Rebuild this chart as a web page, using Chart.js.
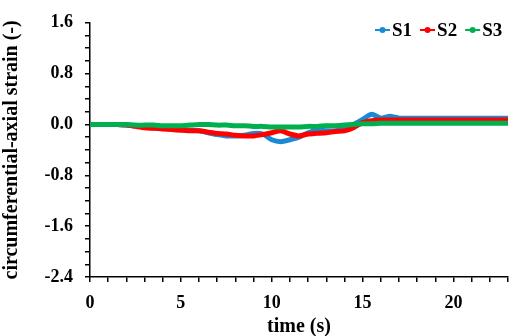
<!DOCTYPE html>
<html>
<head>
<meta charset="utf-8">
<script src="https://cdn.jsdelivr.net/npm/chart.js@4"></script>
<style>
  body { margin: 0; background: #fff; }
</style>
</head>
<body>
<canvas id="chart" width="515" height="336"></canvas>
<script>
// time (s), every 0.5 s
const times = [0, 0.5, 1, 1.5, 2, 2.5, 3, 3.5, 4, 4.5, 5, 5.5, 6, 6.5, 7, 7.5, 8, 8.5, 9, 9.5, 10, 10.5, 11, 11.5, 12, 12.5, 13, 13.5, 14, 14.5, 15, 15.5, 16, 16.5, 17, 17.5, 18, 18.5, 19, 19.5, 20, 20.5, 21, 21.5, 22, 22.5, 23];

const s1 = [0, 0, 0, 0, -0.01, -0.02, -0.04, -0.05, -0.05, -0.07, -0.08, -0.09, -0.1, -0.13, -0.16, -0.18, -0.18, -0.17, -0.14, -0.15, -0.24, -0.27, -0.24, -0.2, -0.13, -0.09, -0.1, -0.1, -0.05, 0.0, 0.08, 0.16, 0.1, 0.13, 0.1, 0.1, 0.1, 0.1, 0.1, 0.1, 0.1, 0.1, 0.1, 0.1, 0.1, 0.1, 0.1];
const s2 = [0, 0, 0, 0, -0.01, -0.03, -0.05, -0.06, -0.07, -0.08, -0.09, -0.1, -0.1, -0.12, -0.14, -0.15, -0.17, -0.18, -0.18, -0.16, -0.13, -0.1, -0.15, -0.18, -0.15, -0.14, -0.13, -0.11, -0.1, -0.05, 0.03, 0.06, 0.07, 0.07, 0.07, 0.07, 0.07, 0.07, 0.07, 0.07, 0.07, 0.07, 0.07, 0.07, 0.07, 0.07, 0.07];
const s3 = [0, 0, 0, 0, 0, -0.01, -0.01, -0.01, -0.02, -0.02, -0.02, -0.01, 0.0, 0.0, -0.01, -0.01, -0.02, -0.02, -0.03, -0.03, -0.04, -0.04, -0.04, -0.04, -0.03, -0.03, -0.02, -0.02, -0.01, 0.0, 0.01, 0.01, 0.02, 0.02, 0.02, 0.02, 0.02, 0.02, 0.02, 0.02, 0.02, 0.02, 0.02, 0.02, 0.02, 0.02, 0.02];

const seriesNames = ['S1', 'S2', 'S3'];
const seriesColors = ['#1a8ad4', '#ff0000', '#00b050'];

const family = '"Liberation Serif", "Times New Roman", serif';
const tickFont = { family: family, weight: 'bold', size: 18 };
const titleFont = { family: family, weight: 'bold', size: 20 };

const pts = vals => vals.map((v, i) => ({ x: times[i], y: v }));

// legend drawn inside the plot, top right: line + dot marker, then label
const insideLegend = {
  id: 'insideLegend',
  afterDraw(chart) {
    const ctx = chart.ctx;
    ctx.save();
    ctx.font = 'bold 19px ' + family;
    ctx.textBaseline = 'middle';
    let x = 375;
    const y = 30;
    chart.data.datasets.forEach(ds => {
      ctx.strokeStyle = ds.borderColor;
      ctx.fillStyle = ds.borderColor;
      ctx.lineWidth = 2;
      ctx.beginPath(); ctx.moveTo(x, y); ctx.lineTo(x + 15, y); ctx.stroke();
      ctx.beginPath(); ctx.arc(x + 7.5, y, 3, 0, Math.PI * 2); ctx.fill();
      x += 17;
      ctx.fillStyle = '#000';
      ctx.fillText(ds.label, x, y + 1);
      x += ctx.measureText(ds.label).width + 8;
    });
    ctx.restore();
  }
};

new Chart(document.getElementById('chart'), {
  type: 'line',
  data: {
    datasets: [s1, s2, s3].map((vals, i) => ({
      label: seriesNames[i],
      data: pts(vals),
      borderColor: seriesColors[i],
      backgroundColor: seriesColors[i],
      borderWidth: 5,
      pointRadius: 0,
      tension: 0.2,
      order: 2 - i
    }))
  },
  options: {
    responsive: false,
    animation: false,
    layout: { padding: { top: 17, right: 7, left: 0, bottom: 0 } },
    plugins: {
      tooltip: { enabled: false },
      legend: { display: false }
    },
    scales: {
      x: {
        type: 'linear',
        min: 0,
        max: 23,
        border: { color: '#000', width: 1.5 },
        grid: { drawOnChartArea: false, color: '#000', tickLength: 5, lineWidth: 1.5 },
        ticks: {
          stepSize: 1,
          autoSkip: false,
          maxRotation: 0,
          color: '#000',
          font: tickFont,
          padding: 11,
          callback: v => (v % 5 === 0 ? String(v) : '')
        },
        title: { display: true, text: 'time (s)', color: '#000', font: titleFont, padding: { top: 2, bottom: -3 } },
        afterFit: s => { s.height = 59; s.paddingLeft = 0; s.paddingRight = 0; }
      },
      y: {
        min: -2.4,
        max: 1.6,
        border: { color: '#000', width: 1.5 },
        grid: { drawOnChartArea: false, color: '#000', tickLength: 5, lineWidth: 1.5 },
        ticks: {
          stepSize: 0.2,
          autoSkip: false,
          color: '#000',
          font: tickFont,
          padding: 12,
          callback: v => {
            const k = v / 0.8;
            return Math.abs(k - Math.round(k)) < 1e-6 ? v.toFixed(1) : '';
          }
        },
        title: { display: true, text: 'circumferential-axial strain (-)', color: '#000', font: titleFont, padding: { top: 0, bottom: 8 } },
        afterFit: s => { s.width = 90; }
      }
    }
  },
  plugins: [insideLegend]
});
</script>
</body>
</html>
